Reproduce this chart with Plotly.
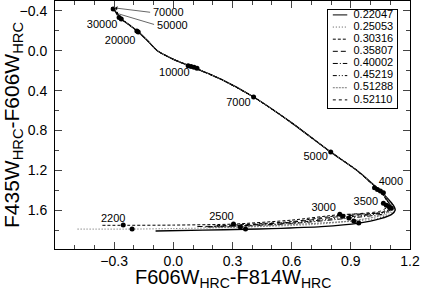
import plotly.graph_objects as go

# ---------------- data ----------------
series_names = ["0.22047", "0.25053", "0.30316", "0.35807",
                "0.40002", "0.45219", "0.51288", "0.52110"]
series_dash = ["solid", "1px,2px", "3px,2px", "5px,3px",
               "5px,2px,1px,2px", "4px,2px,1px,2px,1px,2px", "2px,1px", "3px,3px"]
series_color = ["black", "#555555", "black", "black", "black", "black", "#777777", "black"]
series_width = [1.4, 1, 1, 1, 1, 1, 1, 1]

# hot branch shared by all models (70000 K ... 5000 K)
hot_x = [-0.315, -0.30, -0.264, -0.22, -0.178, -0.13, -0.081, 0.0, 0.097,
         0.239, 0.407, 0.595, 0.798, 0.93]
hot_y = [-0.43, -0.41, -0.32, -0.255, -0.19, -0.10, 0.0, 0.085, 0.163,
         0.283, 0.464, 0.716, 1.017, 1.20]

# cool branches, one per model
cool_x = [
    [1.045, 1.09, 1.115, 1.125, 1.105, 1.05, 0.94, 0.75, 0.50, 0.366, 0.15, -0.09],
    [1.043, 1.085, 1.108, 1.115, 1.095, 1.03, 0.915, 0.70, 0.34, 0.0, -0.209, -0.49],
    [1.040, 1.075, 1.095, 1.10, 1.08, 1.00, 0.844, 0.60, 0.305, 0.0, -0.254, -0.366],
    [1.041, 1.078, 1.092, 1.095, 1.06, 0.859, 0.60, 0.30, 0.12],
    [1.042, 1.082, 1.100, 1.105, 1.07, 0.89, 0.60, 0.30, 0.15],
    [1.041, 1.080, 1.096, 1.10, 1.065, 0.875, 0.60, 0.30, 0.18],
    [1.043, 1.086, 1.105, 1.11, 1.08, 0.915, 0.60, 0.30, 0.20],
    [1.040, 1.074, 1.088, 1.09, 1.05, 0.85, 0.60, 0.30, 0.22],
]
cool_y = [
    [1.40, 1.49, 1.55, 1.60, 1.645, 1.685, 1.73, 1.765, 1.785, 1.792, 1.80, 1.81],
    [1.40, 1.49, 1.55, 1.595, 1.64, 1.685, 1.71, 1.745, 1.772, 1.785, 1.79, 1.79],
    [1.40, 1.48, 1.54, 1.58, 1.615, 1.635, 1.645, 1.70, 1.74, 1.75, 1.752, 1.752],
    [1.40, 1.48, 1.54, 1.565, 1.62, 1.66, 1.72, 1.755, 1.765],
    [1.40, 1.49, 1.55, 1.585, 1.635, 1.68, 1.735, 1.765, 1.77],
    [1.40, 1.48, 1.545, 1.575, 1.625, 1.67, 1.73, 1.76, 1.765],
    [1.40, 1.49, 1.555, 1.59, 1.64, 1.705, 1.745, 1.77, 1.775],
    [1.40, 1.48, 1.535, 1.56, 1.61, 1.65, 1.715, 1.75, 1.755],
]

# temperature points (dots)
dot_x = [-0.305, -0.275, -0.264, -0.185, -0.178, 0.075, 0.09, 0.105, 0.12,
         0.407, 0.798, 1.02, 1.035, 1.05, 1.065,
         1.065, 1.08, 1.095, 1.105,
         0.844, 0.859, 0.890, 0.915, 0.940,
         0.305, 0.34, 0.366, -0.254, -0.209]
dot_y = [-0.42, -0.335, -0.32, -0.20, -0.19, 0.15, 0.157, 0.166, 0.175,
         0.464, 1.017, 1.375, 1.392, 1.408, 1.425,
         1.53, 1.55, 1.565, 1.58,
         1.64, 1.66, 1.68, 1.71, 1.73,
         1.74, 1.77, 1.79, 1.75, 1.79]

# temperature labels
label_text = ["30000", "20000", "10000", "7000", "5000", "4000",
              "3500", "3000", "2500", "2200"]
label_x = [-0.361, -0.270, 0.005, 0.330, 0.722, 1.103, 0.976, 0.762, 0.244, -0.305]
label_y = [-0.259, -0.098, 0.223, 0.525, 1.067, 1.319, 1.52, 1.58, 1.67, 1.69]

arrow_text = ["70000", "50000"]
arrow_text_x = [-0.026, -0.005]
arrow_text_y = [-0.38, -0.249]
arrow_tip_x = [-0.295, -0.293]
arrow_tip_y = [-0.43, -0.38]
arrow_tail_x = [-0.11, -0.09]
arrow_tail_y = [-0.385, -0.26]

x_tickvals = [-0.3, 0.0, 0.3, 0.6, 0.9, 1.2]
y_tickvals = [-0.4, 0.0, 0.4, 0.8, 1.2, 1.6]

x_title = "F606W<sub>HRC</sub>-F814W<sub>HRC</sub>"
y_title = "F435W<sub>HRC</sub>-F606W<sub>HRC</sub>"

FONT = "Liberation Sans, Arial, sans-serif"

fig = go.Figure()

for i, name in enumerate(series_names):
    fig.add_trace(go.Scatter(
        x=hot_x + cool_x[i], y=hot_y + cool_y[i], mode="lines", name=name,
        line=dict(color=series_color[i], width=series_width[i], dash=series_dash[i],
                  shape="spline", smoothing=0.6),
        showlegend=False, hoverinfo="skip", xaxis="x", yaxis="y"))

fig.add_trace(go.Scatter(x=dot_x, y=dot_y, mode="markers", hoverinfo="skip",
                         marker=dict(color="black", size=5), showlegend=False))

fig.add_trace(go.Scatter(x=label_x, y=label_y, mode="text", text=label_text, hoverinfo="skip",
                         textfont=dict(family=FONT, size=11, color="black"),
                         showlegend=False))
fig.add_trace(go.Scatter(x=arrow_text_x, y=arrow_text_y, mode="text", text=arrow_text,
                         hoverinfo="skip",
                         textfont=dict(family=FONT, size=11, color="black"),
                         showlegend=False))

for i in range(len(arrow_text)):
    fig.add_annotation(x=arrow_tip_x[i], y=arrow_tip_y[i], ax=arrow_tail_x[i], ay=arrow_tail_y[i],
                       xref="x", yref="y", axref="x", ayref="y", text="",
                       showarrow=True, arrowhead=1, arrowsize=1.2, arrowwidth=0.6,
                       arrowcolor="black")

# x-axis title placed just below the tick labels
fig.add_annotation(x=0.5, y=-0.066, xref="paper", yref="paper", text=x_title,
                   showarrow=False, xanchor="center", yanchor="top", borderpad=0,
                   font=dict(family=FONT, size=20, color="black"))

# inset legend drawn on its own small axes
leg_idx = list(range(len(series_names)))
for i in leg_idx:
    fig.add_trace(go.Scatter(x=[0.07, 0.28], y=[i, i], mode="lines", hoverinfo="skip",
                             line=dict(color=series_color[i], width=1, dash=series_dash[i]),
                             showlegend=False, xaxis="x2", yaxis="y2"))
fig.add_trace(go.Scatter(x=[0.37] * len(series_names), y=leg_idx, mode="text",
                         text=series_names, textposition="middle right", hoverinfo="skip",
                         textfont=dict(family=FONT, size=11, color="black"),
                         showlegend=False, xaxis="x2", yaxis="y2"))

fig.update_layout(
    width=421, height=291,
    margin=dict(l=55, r=11, t=1, b=42, autoexpand=False),
    paper_bgcolor="white", plot_bgcolor="white",
    font=dict(family=FONT, size=14, color="black"),
    hovermode=False,
    xaxis=dict(range=[-0.6, 1.2], tickmode="array", tickvals=x_tickvals, ticks="inside", ticklen=7,
               tickformat=".1f", showgrid=False, zeroline=False, automargin=False,
               showline=True, linecolor="black", linewidth=1, mirror="allticks",
               ticklabelstandoff=-1,
               minor=dict(tickmode="linear", ticks="inside", ticklen=4, dtick=0.1, tick0=0, showgrid=False),
               tickfont=dict(size=14)),
    yaxis=dict(range=[1.99, -0.5], tickmode="array", tickvals=y_tickvals, ticks="inside", ticklen=7,
               tickformat=".1f", showgrid=False, zeroline=False, automargin=False,
               showline=True, linecolor="black", linewidth=1, mirror="allticks",
               ticklabelstandoff=4,
               minor=dict(tickmode="linear", ticks="inside", ticklen=4, dtick=0.2, tick0=0, showgrid=False),
               title=dict(text=y_title, font=dict(size=21), standoff=2),
               tickfont=dict(size=14)),
    xaxis2=dict(domain=[0.769, 0.963], anchor="y2", range=[0, 1], showgrid=False,
                zeroline=False, showticklabels=False, ticks="", showline=True,
                linecolor="black", linewidth=1, mirror=True, fixedrange=True),
    yaxis2=dict(domain=[0.569, 0.964], anchor="x2", range=[7.66, -0.41], showgrid=False,
                zeroline=False, showticklabels=False, ticks="", showline=True,
                linecolor="black", linewidth=1, mirror=True, fixedrange=True),
    showlegend=False,
)

fig.write_html("out.html", config={"displayModeBar": False, "staticPlot": True},
               post_script="document.body.style.margin='0';document.body.style.overflow='hidden';")
